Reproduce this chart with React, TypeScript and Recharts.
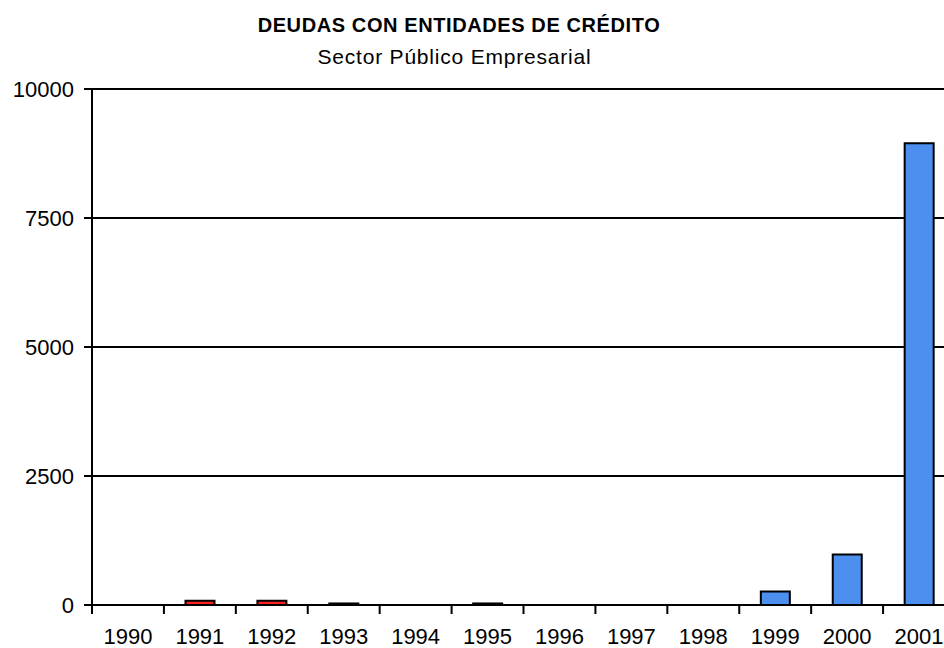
import React from "react";
import { BarChart, Bar, XAxis, YAxis, CartesianGrid, Cell } from "recharts";

const years = ["1990", "1991", "1992", "1993", "1994", "1995", "1996", "1997", "1998", "1999", "2000", "2001"];
const values = [0, 80, 80, 30, 0, 30, 0, 0, 0, 260, 980, 8950];
const colors = ["#ff2020", "#ff2020", "#ff2020", "#ff2020", "#ff2020", "#4d8fef", "#4d8fef", "#4d8fef", "#4d8fef", "#4d8fef", "#4d8fef", "#4d8fef"];
const yTicks = [0, 2500, 5000, 7500, 10000];

const data = years.map((y, i) => ({ year: y, value: values[i] }));

const W = 954;
const H = 640;
const M = { top: 81, right: 7, left: 0, bottom: 13 };
const Y_W = 84;
const BAND = (W - M.left - M.right - Y_W) / years.length;

const FONT = "'Liberation Sans', Arial, sans-serif";

const XTick = (props: any) => {
  const { x, y, payload } = props;
  return (
    <g>
      <line x1={x - BAND / 2} x2={x - BAND / 2} y1={y} y2={y + 9} stroke="#000" strokeWidth={2} />
      <text x={x} y={y + 39} textAnchor="middle" fontFamily={FONT} fontSize={22} fill="#000">
        {payload.value}
      </text>
    </g>
  );
};

export default function App() {
  return (
    <div style={{ position: "relative", width: 944, height: 648, overflow: "hidden", background: "#fff" }}>
      <style>{`html,body{margin:0;padding:0;overflow:hidden;}`}</style>
      <div style={{ position: "absolute", top: 8, left: 8, width: 936, height: 640 }}>
        <div
          style={{
            position: "absolute",
            top: 5,
            left: 0,
            width: 902,
            textAlign: "center",
            fontFamily: FONT,
            fontWeight: "bold",
            fontSize: 20,
            letterSpacing: 0.6,
            color: "#000",
            lineHeight: "24px",
          }}
        >
          DEUDAS CON ENTIDADES DE CRÉDITO
        </div>
        <div
          style={{
            position: "absolute",
            top: 36,
            left: 0,
            width: 893,
            textAlign: "center",
            fontFamily: FONT,
            fontSize: 21,
            letterSpacing: 0.8,
            color: "#000",
            lineHeight: "26px",
          }}
        >
          Sector Público Empresarial
        </div>
        <div style={{ position: "absolute", top: 0, left: 0 }}>
          <BarChart width={W} height={H} data={data} margin={M} barCategoryGap="30%">
            <CartesianGrid vertical={false} stroke="#000" strokeWidth={2} />
            <XAxis
              dataKey="year"
              axisLine={{ stroke: "#000", strokeWidth: 2 }}
              tickLine={false}
              tickSize={0}
              tickMargin={0}
              height={30}
              tick={<XTick />}
              interval={0}
            />
            <YAxis
              width={Y_W}
              domain={[0, 10000]}
              ticks={yTicks}
              axisLine={{ stroke: "#000", strokeWidth: 2 }}
              tickLine={{ stroke: "#000", strokeWidth: 2 }}
              tickSize={8}
              tickMargin={10}
              tick={{ fill: "#000", fontSize: 22, fontFamily: FONT }}
              interval={0}
            />
            <Bar dataKey="value" stroke="#000" strokeWidth={2} isAnimationActive={false}>
              {data.map((d, i) => (
                <Cell key={d.year} fill={colors[i]} />
              ))}
            </Bar>
          </BarChart>
        </div>
      </div>
    </div>
  );
}
